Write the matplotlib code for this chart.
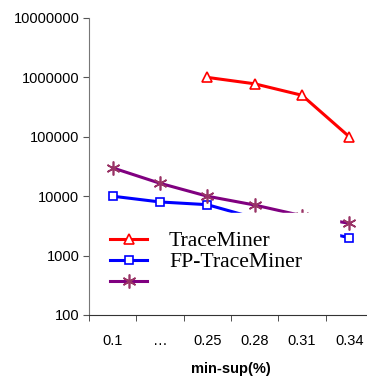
import matplotlib
matplotlib.use("Agg")
from matplotlib import pyplot as plt
from matplotlib.lines import Line2D
import numpy as np

categories = ["0.1", "\u2026", "0.25", "0.28", "0.31", "0.34"]
traceminer = [None, None, 1000000, 780000, 500000, 100000]
fp_traceminer = [10000, 8000, 7200, 4300, 3000, 2000]
third_miner = [30000, 16500, 10000, 7100, 4700, 3500]
legend_labels = ["TraceMiner", "FP-TraceMiner", " "]

fig = plt.figure(figsize=(3.67, 3.80), dpi=100)
ax = fig.add_axes([89 / 367, 1 - 315 / 380, 284 / 367, 297 / 380])

x = np.arange(len(categories))
tm = np.array([np.nan if v is None else v for v in traceminer], dtype=float)

red_style = dict(color="#ff0000", lw=2.2, marker="^", ms=7, mfc="white", mec="#ff0000", mew=1.2)
blue_style = dict(color="#0000ff", lw=2.2, marker="s", ms=6, mfc="white", mec="#0000ff", mew=1.2)
purple_style = dict(color="#800080", lw=2.2, marker=(6, 2, 0), ms=10, mec="#993366", mew=1.2)

ax.plot(x, tm, **red_style)
ax.plot(x, fp_traceminer, **blue_style)
ax.plot(x, third_miner, **purple_style)

ax.set_yscale("log")
ax.set_ylim(100, 10000000)
ax.set_xlim(-0.5, len(categories) - 0.5)
ax.yaxis.set_major_locator(matplotlib.ticker.LogLocator(base=10, numticks=10))
ax.yaxis.set_minor_locator(matplotlib.ticker.NullLocator())
ax.yaxis.set_major_formatter(matplotlib.ticker.FuncFormatter(lambda v, p: "%d" % round(v)))

ax.set_xticks(x)
ax.set_xticklabels(categories)
ax.set_xticks(np.arange(len(categories) + 1) - 0.5, minor=True)
ax.tick_params(axis="x", which="major", length=0, pad=14)
ax.tick_params(axis="x", which="minor", length=4, direction="out", color="#333333")
ax.tick_params(axis="y", length=4, direction="out", color="#555555", pad=3)

for lab in ax.get_xticklabels() + ax.get_yticklabels():
    lab.set_family("Liberation Sans")
    lab.set_fontsize(10.5)

ax.spines["top"].set_visible(False)
ax.spines["right"].set_visible(False)
ax.spines["left"].set_color("#777777")
ax.spines["bottom"].set_color("#333333")

ax.set_xlabel("min-sup(%)", family="Liberation Sans", fontsize=10.5, fontweight="bold", labelpad=10)

handles = [Line2D([], [], **red_style), Line2D([], [], **blue_style), Line2D([], [], **purple_style)]
leg = ax.legend(handles, legend_labels, loc="lower left", mode="expand",
                bbox_to_anchor=(0.0106, 0.01, 0.870, 0.29),
                prop={"family": "Liberation Serif", "size": 15.6},
                frameon=True, fancybox=False, framealpha=1, edgecolor="white",
                handlelength=1.7, handletextpad=1.0, labelspacing=0.05,
                borderpad=0.85, borderaxespad=0)
leg.set_zorder(5)

fig.savefig("out.png", dpi=100)
